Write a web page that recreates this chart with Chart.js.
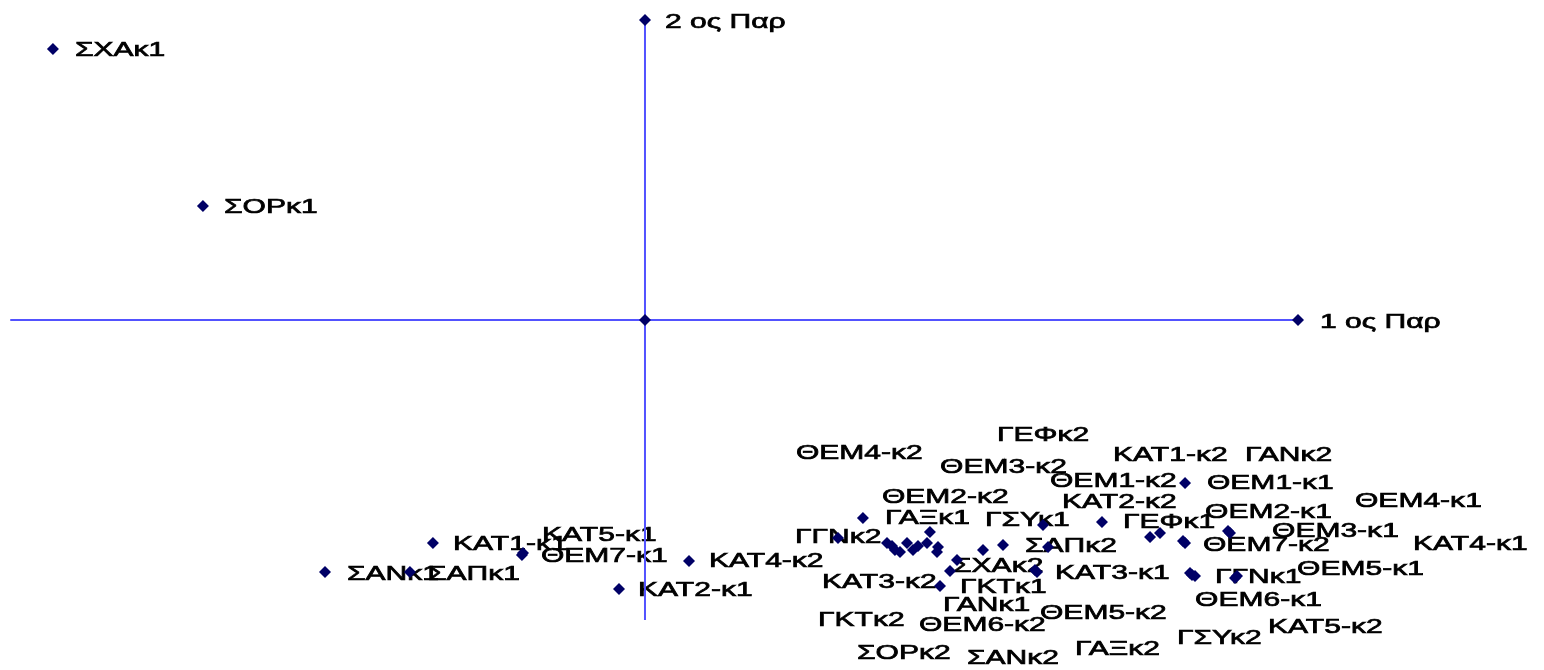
<!DOCTYPE html>
<html>
<head>
<meta charset="utf-8">
<script src="https://cdn.jsdelivr.net/npm/chart.js@4.4.0/dist/chart.umd.min.js"></script>
<style>
    body { margin: 0; background: #fff; }
</style>
</head>
<body>
<canvas id="ca" width="1544" height="670"></canvas>
<script>
// categories (points of the correspondence analysis)
var names = [
    "ΣΧΑκ1", "ΣΟΡκ1", "ΚΑΤ1-κ1", "ΣΑΝκ1", "ΣΑΠκ1", "ΘΕΜ7-κ1", "ΚΑΤ5-κ1", "ΚΑΤ4-κ2", "ΚΑΤ2-κ1",
    "ΓΑΞκ1", "ΓΓΝκ2", "ΘΕΜ2-κ2", "ΘΕΜ4-κ2", "ΘΕΜ3-κ2", "ΚΑΤ3-κ2", "ΓΚΤκ2", "ΣΟΡκ2", "ΘΕΜ6-κ2",
    "ΓΑΝκ1", "ΣΑΝκ2", "ΣΧΑκ2", "ΓΚΤκ1", "ΘΕΜ5-κ2", "ΓΑΞκ2", "ΓΕΦκ2", "ΘΕΜ1-κ2", "ΚΑΤ2-κ2",
    "ΓΣΥκ1", "ΣΑΠκ2", "ΚΑΤ3-κ1", "ΘΕΜ1-κ1", "ΓΕΦκ1", "ΘΕΜ7-κ2", "ΓΓΝκ1", "ΚΑΤ1-κ2", "ΓΑΝκ2",
    "ΘΕΜ2-κ1", "ΘΕΜ5-κ1", "ΘΕΜ3-κ1", "ΘΕΜ6-κ1", "ΘΕΜ4-κ1", "ΚΑΤ4-κ1", "ΚΑΤ5-κ2", "ΓΣΥκ2"
];
// 1st dimension
var dim1 = [
    -0.9066, -0.6769, -0.3247, -0.4900, -0.3599, -0.1884, -0.1868, 0.0674, -0.0398,
    0.3338, 0.2956, 0.4364, 0.3706, 0.4319, 0.3828, 0.3905, 0.4012, 0.4104,
    0.4487, 0.4472, 0.4778, 0.4518, 0.4671, 0.3783, 0.4181, 0.5176, 0.5482,
    0.6095, 0.6172, 0.6003, 0.8270, 0.6998, 0.8270, 0.8377, 0.7734, 0.7887,
    0.8959, 0.9035, 0.8239, 0.8423, 0.8928, 0.9066, 0.8346, 0.5972
];
// 2nd dimension
var dim2 = [
    0.9033, 0.3800, -0.7433, -0.8400, -0.8400, -0.7833, -0.7767, -0.8033, -0.8967,
    -0.6600, -0.7267, -0.7067, -0.7433, -0.7433, -0.7667, -0.7733, -0.7433, -0.7667,
    -0.7567, -0.7733, -0.8000, -0.8867, -0.8367, -0.7533, -0.7533, -0.7667, -0.7500,
    -0.6833, -0.7567, -0.8400, -0.5433, -0.6733, -0.7433, -0.8500, -0.7233, -0.7100,
    -0.7100, -0.8600, -0.7367, -0.8533, -0.7033, -0.8533, -0.8433, -0.8333
];
// where each label was placed (left edge, middle), in axis units
var labelX = [
    -0.8729, -0.6447, -0.2940, -0.4564, -0.3323, -0.1593, -0.1577, 0.0980, -0.0107,
    0.3675, 0.2297, 0.3629, 0.2312, 0.4518, 0.2711, 0.2649, 0.3247, 0.4196,
    0.4564, 0.4931, 0.4717, 0.4824, 0.6049, 0.6585, 0.5391, 0.6202, 0.6386,
    0.5207, 0.5819, 0.6279, 0.8606, 0.7320, 0.8545, 0.8729, 0.7167, 0.9188,
    0.8576, 0.9985, 0.9602, 0.8423, 1.0873, 1.1761, 0.9541, 0.8147
];
var labelY = [
    0.9000, 0.3767, -0.7467, -0.8467, -0.8467, -0.7867, -0.7167, -0.8033, -0.9000,
    -0.6600, -0.7233, -0.5900, -0.4433, -0.4900, -0.8733, -1.0000, -1.1100, -1.0167,
    -0.9500, -1.1267, -0.8200, -0.8900, -0.9767, -1.0967, -0.3833, -0.5367, -0.6067,
    -0.6667, -0.7533, -0.8433, -0.5433, -0.6733, -0.7500, -0.8567, -0.4500, -0.4500,
    -0.6400, -0.8300, -0.7033, -0.9333, -0.6033, -0.7467, -1.0233, -1.0600
];

// the two axes of the plot
var axisNames = ["", "1 ος Παρ", "2 ος Παρ"];
var axisX = [0, 1, 0];
var axisY = [0, 0, 1];
var axisLabelX = [0, 1.0337, 0.0306];
var axisLabelY = [0, -0.0067, 0.9933];
var axis1Line = [-0.972, 1];
var axis2Line = [-1, 1];

function toPoints(xs, ys){
    var pts = [];
    var i;
    for(i = 0; i < xs.length; i++){
        pts.push({x: xs[i], y: ys[i]});
    }
    return pts;
}

var allNames = names.concat(axisNames);
var allLabelX = labelX.concat(axisLabelX);
var allLabelY = labelY.concat(axisLabelY);

// labels are written first, markers and lines go on top
var labelPlugin = {
    id: "pointLabels",
    beforeDatasetsDraw: function(chart){
        var ctx = chart.ctx;
        var sx = chart.scales.x;
        var sy = chart.scales.y;
        var i;
        ctx.save();
        ctx.fillStyle = "#000";
        ctx.strokeStyle = "#000";
        ctx.lineWidth = 0.7;
        ctx.font = "21px 'Liberation Sans', Arial, sans-serif";
        ctx.textAlign = "left";
        ctx.textBaseline = "middle";
        for(i = 0; i < allNames.length; i++){
            if(!allNames[i]) continue;
            ctx.save();
            ctx.translate(sx.getPixelForValue(allLabelX[i]), sy.getPixelForValue(allLabelY[i]));
            ctx.scale(1.43, 1);
            ctx.fillText(allNames[i], 0, 0);
            ctx.strokeText(allNames[i], 0, 0);
            ctx.restore();
        }
        ctx.restore();
    }
};

var markerStyle = {
    pointStyle: "rectRot",
    pointRadius: 6,
    pointBackgroundColor: "#000066",
    pointBorderColor: "#000066",
    pointBorderWidth: 0,
    showLine: false
};

var ca = new Chart(document.getElementById("ca"), {
    type: "scatter",
    data: {
        datasets: [
            Object.assign({ label: "points", data: toPoints(dim1, dim2) }, markerStyle),
            Object.assign({ label: "axes", data: toPoints(axisX, axisY) }, markerStyle),
            {
                label: "axis1",
                data: toPoints(axis1Line, [0, 0]),
                showLine: true,
                borderColor: "#5252ff",
                borderWidth: 2,
                pointRadius: 0
            },
            {
                label: "axis2",
                data: toPoints([0, 0], axis2Line),
                showLine: true,
                borderColor: "#5252ff",
                borderWidth: 2,
                pointRadius: 0
            }
        ]
    },
    options: {
        responsive: false,
        animation: false,
        layout: { padding: 0, autoPadding: false },
        plugins: {
            legend: { display: false },
            tooltip: { enabled: false }
        },
        scales: {
            x: { type: "linear", min: -0.9877, max: 1.3767, display: false },
            y: { type: "linear", min: -1.1667, max: 1.0667, display: false }
        }
    },
    plugins: [labelPlugin]
});
</script>
</body>
</html>
